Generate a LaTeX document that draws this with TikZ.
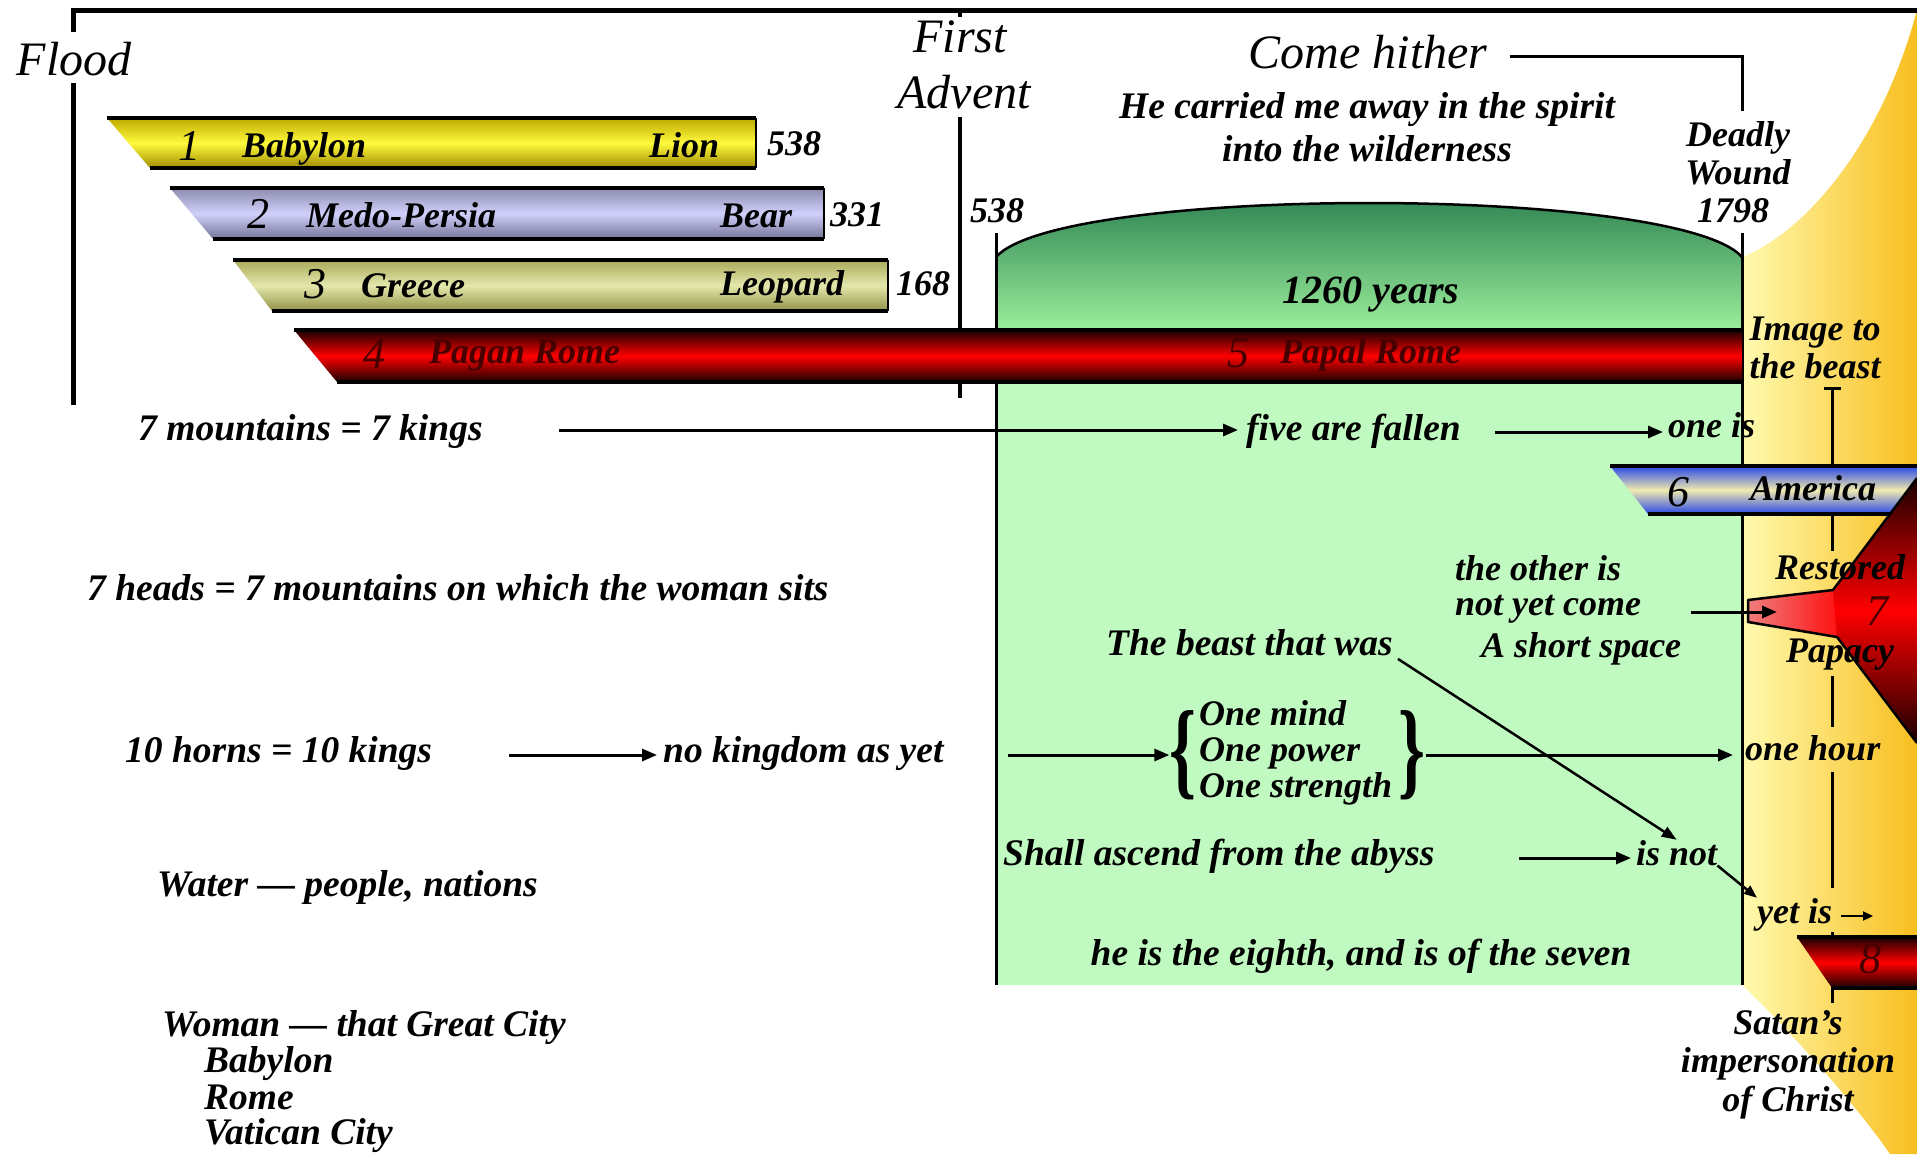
\documentclass[tikz,border=0pt]{standalone}
\usepackage{fontspec}
\setmainfont{Liberation Serif}
\usetikzlibrary{arrows.meta}
\definecolor{yl1}{RGB}{255,250,175}
\definecolor{yl2}{RGB}{248,190,30}
\definecolor{gd}{RGB}{50,135,85}
\definecolor{gl}{RGB}{155,238,155}
\definecolor{gm}{RGB}{192,250,192}
\definecolor{b1t}{RGB}{190,170,0}
\definecolor{b1m}{RGB}{255,250,60}
\definecolor{b1b}{RGB}{160,140,0}
\definecolor{b2t}{RGB}{140,140,175}
\definecolor{b2m}{RGB}{208,208,252}
\definecolor{b2b}{RGB}{115,115,150}
\definecolor{b3t}{RGB}{170,170,90}
\definecolor{b3m}{RGB}{228,232,172}
\definecolor{b3b}{RGB}{145,145,70}
\definecolor{rdk}{RGB}{25,0,0}
\definecolor{rtx}{RGB}{70,0,0}
\definecolor{bl1}{RGB}{40,70,230}
\definecolor{blm}{RGB}{240,235,175}
\definecolor{pink}{RGB}{240,125,125}
\begin{document}
\begin{tikzpicture}[x=1pt,y=-1pt,
  txt/.style={font=\fontsize{36}{38}\selectfont\bfseries\itshape, inner sep=0pt, anchor=base},
  txtw/.style={txt, anchor=base west},
  txtL/.style={font=\fontsize{37.5}{39}\selectfont\bfseries\itshape, inner sep=0pt, anchor=base},
  txtLw/.style={txtL, anchor=base west},
  big/.style={font=\fontsize{48}{50}\selectfont\itshape, inner sep=0pt, anchor=base},
  num/.style={font=\fontsize{44}{46}\selectfont\itshape, inner sep=0pt, anchor=base},
  arr/.style={line width=3pt, -{Triangle[length=15pt,width=12pt]}},
  edge/.style={line width=4pt},
  brace/.style={font=\fontsize{36}{36}\selectfont\bfseries, inner sep=0pt},
]
\useasboundingbox (0,0) rectangle (1917,1154);
\fill[white] (0,0) rectangle (1917,1154);

% yellow region
\shade[left color=yl1, right color=yl2] (1917,10) .. controls (1880,150) and (1800,235) .. (1742,257) -- (1742,985) .. controls (1790,1030) and (1860,1110) .. (1890,1154) -- (1917,1154) -- cycle;

% green box
\fill[gm] (996,985) -- (996,257) .. controls (1060,185) and (1678,185) .. (1742,257) -- (1742,985) -- cycle;
\begin{scope}
\clip (996,340) -- (996,257) .. controls (1060,185) and (1678,185) .. (1742,257) -- (1742,340) -- cycle;
\shade[top color=gd, bottom color=gl] (996,200) rectangle (1742,330);
\end{scope}
\draw[line width=2.5pt] (996,257) .. controls (1060,185) and (1678,185) .. (1742,257);
\draw[line width=3pt] (996,233) -- (996,985);
\draw[line width=3pt] (1742,233) -- (1742,985);

% frame
\draw[line width=5pt] (73,32) -- (73,10) -- (1917,10);
\draw[line width=5pt] (73,83) -- (73,405);
\draw[line width=4.5pt] (960,10) -- (960,17);
\draw[line width=4.5pt] (960,117) -- (960,398);

% bands
\shade[top color=b1t, bottom color=b1b, middle color=b1m] (107,118) -- (756,118) -- (756,168) -- (150,168) -- cycle;
\draw[edge] (107,118) -- (756,118) (150,168) -- (756,168);
\draw[line width=2.5pt] (756,118) -- (756,168);
\shade[top color=b2t, bottom color=b2b, middle color=b2m] (170,188) -- (824,188) -- (824,239) -- (213,239) -- cycle;
\draw[edge] (170,188) -- (824,188) (213,239) -- (824,239);
\draw[line width=2.5pt] (824,188) -- (824,239);
\shade[top color=b3t, bottom color=b3b, middle color=b3m] (233,260) -- (888,260) -- (888,311) -- (272,311) -- cycle;
\draw[edge] (233,260) -- (888,260) (272,311) -- (888,311);
\draw[line width=2.5pt] (888,260) -- (888,311);
\shade[top color=rdk, bottom color=rdk, middle color=red] (294,330) -- (1742,330) -- (1742,382) -- (337,382) -- cycle;
\draw[edge] (294,330) -- (1742,330) (337,382) -- (1742,382);

% timeline at right
\draw[line width=3pt] (1824,388) -- (1841,388);
\draw[line width=3pt] (1832,388) -- (1832,466);
\draw[line width=3pt] (1832,514) -- (1832,551);
\draw[line width=3pt] (1832,676) -- (1832,727);
\draw[line width=3pt] (1832,772) -- (1832,888);
\draw[line width=3pt] (1832,932) -- (1832,1003);

% America bar
\shade[top color=bl1, bottom color=bl1, middle color=blm] (1610,466) -- (1917,466) -- (1917,514) -- (1648,514) -- cycle;
\draw[edge] (1610,466) -- (1917,466) (1648,514) -- (1917,514);

% red trumpet 7
\shade[top color=rdk, bottom color=rdk, middle color=red] (1748,600) -- (1833,590) -- (1917,478) -- (1917,743) -- (1837,637) -- (1748,622) -- cycle;
\shade[left color=pink, right color=red!85!pink] (1748,600) -- (1833,590) -- (1837,637) -- (1748,622) -- cycle;
\draw[line width=2.5pt, line join=round] (1917,478) -- (1833,590) -- (1748,600) -- (1748,622) -- (1837,637) -- (1917,743);

% 8 bar
\shade[top color=rdk, bottom color=rdk, middle color=red] (1797,937) -- (1917,937) -- (1917,988) -- (1832,988) -- cycle;
\draw[edge] (1797,937) -- (1917,937) (1832,988) -- (1917,988);

% big labels
\node[big] (flood) at (74,75) {Flood};
\node[big] (first) at (960,52) {First};
\node[big] (advent) at (964,108) {Advent};
\node[big] (come) at (1368,68) {Come hither};
\coordinate (dwtop) at (1742,111);
\draw[line width=3pt, shorten <=22pt] ([yshift=12pt]come.base east) -| (dwtop);

\node[txtL] (carried) at (1367,118) {He carried me away in the spirit};
\node[txtL] (wild) at (1367,161) {into the wilderness};
\node[txt] (deadly) at (1738,146) {Deadly};
\node[txt] (wound) at (1738,184) {Wound};
\node[txt] (y1798) at (1733,222) {1798};
\node[txt] (y538) at (997,222) {538};
\node[txt, font=\fontsize{40}{42}\selectfont\bfseries\itshape] (years) at (1371,303) {1260 years};
\node[txt] (imgto) at (1815,340) {Image to};
\node[txt] (thebeast) at (1815,378) {the beast};

% band texts
\node[num] (n1) at (189,160) {1};
\node[txtw] (babylon) at (242,157) {Babylon};
\node[txtw] (lion) at (649,157) {Lion};
\node[txt] (d538) at (794,155) {538};
\node[num] (n2) at (258,228) {2};
\node[txtw] (medo) at (306,227) {Medo-Persia};
\node[txtw] (bear) at (720,227) {Bear};
\node[txt] (d331) at (857,226) {331};
\node[num] (n3) at (315,298) {3};
\node[txtw] (greece) at (361,297) {Greece};
\node[txtw] (leopard) at (720,295) {Leopard};
\node[txt] (d168) at (923,295) {168};
\node[num, text=rtx] (n4) at (374,368) {4};
\node[txtw, text=rtx] (pagan) at (429,363) {Pagan Rome};
\node[num, text=rtx] (n5) at (1238,367) {5};
\node[txtw, text=rtx] (papal) at (1280,363) {Papal Rome};

% left column
\node[txtLw] (mtn) at (138,440) {7 mountains = 7 kings};
\node[txtLw] (heads) at (87,600) {7 heads = 7 mountains on which the woman sits};
\node[txtLw] (horns) at (125,762) {10 horns = 10 kings};
\node[txtLw] (nokingdom) at (663,762) {no kingdom as yet};
\node[txtLw] (water) at (157,896) {Water — people, nations};
\node[txtLw] (woman) at (162,1036) {Woman — that Great City};
\node[txtLw] (cbab) at (204,1072) {Babylon};
\node[txtLw] (crome) at (204,1109) {Rome};
\node[txtLw] (cvat) at (204,1144) {Vatican City};

% middle
\node[txtLw] (five) at (1246,440) {five are fallen};
\node[txtw] (onei) at (1668,437) {one is};
\node[txtw] (other1) at (1455,580) {the other is};
\node[txtw] (other2) at (1455,615) {not yet come};
\node[txtw] (other3) at (1481,657) {A short space};
\node[txtLw] (beast) at (1106,655) {The beast that was};
\node[brace] (lb) at (1183,755) {\scalebox{1.9}[3.0]{\{}};
\node[txtw] (om1) at (1199,725) {One mind};
\node[txtw] (om2) at (1199,761) {One power};
\node[txtw] (om3) at (1199,797) {One strength};
\node[brace] (rb) at (1412,755) {\scalebox{1.9}[3.0]{\}}};
\node[txtLw] (abyss) at (1003,865) {Shall ascend from the abyss};
\node[txtw] (isnot) at (1636,865) {is not};
\node[txtL] (eighth) at (1361,965) {he is the eighth, and is of the seven};
\node[txtw] (yetis) at (1757,923) {yet is};
\node[txtw] (onehour) at (1745,760) {one hour};

% right column
\node[num] (n6) at (1678,506) {6};
\node[txtw] (america) at (1750,500) {America};
\node[txt] (restored) at (1840,579) {Restored};
\node[txt] (papacy) at (1840,662) {Papacy};
\node[num, text=rtx] (n7) at (1877,625) {7};
\node[num, text=rtx] (n8) at (1870,973) {8};
\node[txt] (satan) at (1788,1034) {Satan’s};
\node[txt] (imperson) at (1788,1072) {impersonation};
\node[txt] (ofchrist) at (1788,1111) {of Christ};

% arrows
\draw[arr, shorten <=76pt, shorten >=8pt] ([yshift=10pt]mtn.base east) -- ([yshift=10pt]five.base west);
\draw[arr, shorten <=34pt, shorten >=5pt] ([yshift=8pt]five.base east) -- ([yshift=8pt]five.base east -| onei.west);
\draw[arr, shorten <=77pt, shorten >=6pt] ([yshift=7pt]horns.base east) -- ([yshift=7pt]nokingdom.base west);
\draw[arr, shorten <=64pt] ([yshift=7pt]nokingdom.base east) -- ([yshift=7pt]nokingdom.base east -| lb.west);
\draw[arr, shorten >=12pt] ([yshift=7pt]nokingdom.base east -| rb.east) -- ([yshift=7pt]nokingdom.base east -| onehour.west);
\draw[line width=2.5pt, -{Triangle[length=15pt,width=11pt]}, shorten <=6pt] (beast.south east) -- (isnot.north);
\draw[arr, shorten <=84pt, shorten >=5pt] ([yshift=7pt]abyss.base east) -- ([yshift=7pt]isnot.base west);
\draw[line width=2.5pt, -{Triangle[length=13pt,width=10pt]}] (isnot.south east) -- (yetis.north west);
\coordinate (yarr) at (1873,916);
\draw[line width=2pt, -{Triangle[length=10pt,width=9pt]}, shorten <=9pt] ([yshift=7pt]yetis.base east) -- (yarr);
\coordinate (mouth) at (1777,612);
\draw[arr, shorten <=50pt] (other2.east |- mouth) -- (mouth);
\end{tikzpicture}
\end{document}
